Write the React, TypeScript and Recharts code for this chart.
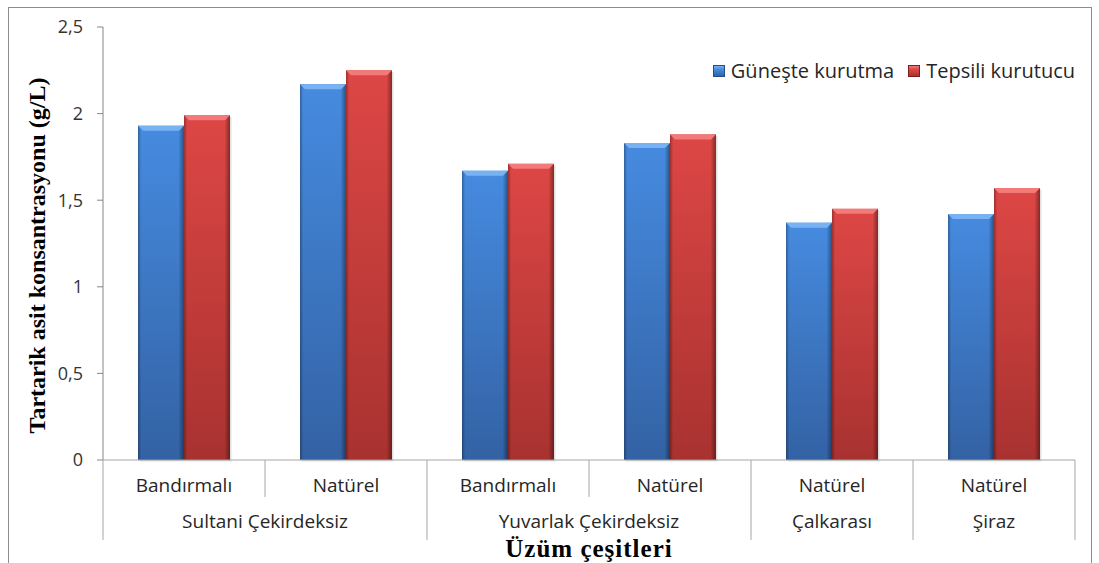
import React from 'react';
import { BarChart, Bar, XAxis, YAxis, Legend } from 'recharts';

// grape varieties (group) and processing (sub) per bar slot
const groups = ['Sultani Çekirdeksiz', 'Sultani Çekirdeksiz', 'Yuvarlak Çekirdeksiz', 'Yuvarlak Çekirdeksiz', 'Çalkarası', 'Şiraz'];
const subs = ['Bandırmalı', 'Natürel', 'Bandırmalı', 'Natürel', 'Natürel', 'Natürel'];
const gunes = [1.93, 2.17, 1.67, 1.83, 1.37, 1.42];
const tepsi = [1.99, 2.25, 1.71, 1.88, 1.45, 1.57];
const yTicks = [0, 0.5, 1, 1.5, 2, 2.5];

const rows = subs.map((s, i) => ({ sub: s, group: groups[i], gunes: gunes[i], tepsi: tepsi[i] }));

const TONES: Record<string, { top: string; bottom: string; bevel: string; edge: string }> = {
  blue: { top: '#468be0', bottom: '#3362a4', bevel: '#78b2f2', edge: '#264d85' },
  red: { top: '#dd4745', bottom: '#a83230', bevel: '#f27a78', edge: '#7a2120' },
};

const sans = '"Open Sans", Lato, sans-serif';
const serif = '"Liberation Serif", "Times New Roman", serif';

const BevelBar = (props: any) => {
  const { x, y, width, height, index, tone } = props;
  if (!height || height <= 0) return null;
  const c = TONES[tone];
  const id = `bar-${tone}-${index}`;
  const b = Math.min(5, width / 6);
  return (
    <g>
      <defs>
        <linearGradient id={id + 'v'} x1="0" y1="0" x2="0" y2="1">
          <stop offset="0%" stopColor={c.top} />
          <stop offset="100%" stopColor={c.bottom} />
        </linearGradient>
        <linearGradient id={id + 'h'} x1="0" y1="0" x2="1" y2="0">
          <stop offset="0%" stopColor="#000" stopOpacity={0.3} />
          <stop offset="7%" stopColor="#000" stopOpacity={0} />
          <stop offset="88%" stopColor="#000" stopOpacity={0} />
          <stop offset="100%" stopColor="#000" stopOpacity={0.4} />
        </linearGradient>
      </defs>
      <rect x={x + 1.5} y={y + 1.5} width={width} height={height} fill="#000" opacity={0.12} />
      <rect x={x} y={y} width={width} height={height} fill={`url(#${id}v)`} />
      <rect x={x} y={y} width={width} height={height} fill={`url(#${id}h)`} />
      <polygon
        points={`${x},${y} ${x + width},${y} ${x + width - b},${y + b} ${x + b},${y + b}`}
        fill={c.bevel}
      />
      <line x1={x} y1={y + height - 0.5} x2={x + width} y2={y + height - 0.5} stroke={c.edge} strokeOpacity={0.6} />
    </g>
  );
};

const TwoLevelTick = (props: any) => {
  const { x, y, payload } = props;
  const i = payload.index;
  const off = payload.offset || 81;
  const left = x - off;
  const first = i === 0 || groups[i - 1] !== groups[i];
  const last = i === groups.length - 1;
  let n = 0;
  if (first) {
    while (groups[i + n] === groups[i]) n++;
  }
  const line = '#a6a6a6';
  return (
    <g>
      <line x1={left} y1={y} x2={left} y2={y + (first ? 80 : 37)} stroke={line} />
      {last && <line x1={x + off} y1={y} x2={x + off} y2={y + 80} stroke={line} />}
      <text x={x} y={y + 32} textAnchor="middle" fontSize={19} fontFamily={sans} fill="#262626">
        {payload.value}
      </text>
      {first && (
        <text x={left + n * off} y={y + 68} textAnchor="middle" fontSize={19} fontFamily={sans} fill="#262626">
          {groups[i]}
        </text>
      )}
    </g>
  );
};

const YTitle = ({ viewBox }: any) => {
  const vb = viewBox && viewBox.height ? viewBox : { x: 0, y: 20, height: 433 };
  const cx = vb.x + 29;
  const cy = vb.y + vb.height / 2 + 12;
  return (
    <text
      x={cx}
      y={cy}
      transform={`rotate(-90 ${cx} ${cy})`}
      textAnchor="middle"
      dominantBaseline="central"
      fontFamily={serif}
      fontWeight="bold"
      fontSize={24}
      fill="#000"
    >
      Tartarik asit konsantrasyonu (g/L)
    </text>
  );
};

const LegendBox = ({ payload }: any) => (
  <div style={{ display: 'flex', alignItems: 'center', fontFamily: sans, fontSize: 20, color: '#262626', whiteSpace: 'nowrap' }}>
    {(payload || []).map((p: any, k: number) => {
      const c = TONES[p.dataKey === 'gunes' ? 'blue' : 'red'];
      return (
        <div key={p.dataKey} style={{ display: 'flex', alignItems: 'center', marginLeft: k ? 14 : 0 }}>
          <span
            style={{
              display: 'inline-block',
              width: 10,
              height: 10,
              marginRight: 6,
              background: `linear-gradient(${c.bevel}, ${c.top} 35%, ${c.bottom})`,
              border: `1px solid ${c.edge}`,
            }}
          />
          {p.value}
        </div>
      );
    })}
  </div>
);

const App = () => {
  return (
    <div style={{ position: 'absolute', left: 8, top: 7, width: 1084, height: 560 }}>
      <div style={{ position: 'absolute', inset: 0, border: '1px solid #8c8c8c', boxSizing: 'border-box' }} />
      <div style={{ position: 'absolute', left: 0, top: 0 }}>
        <BarChart
          width={1084}
          height={556}
          data={rows}
          margin={{ top: 20, right: 17, left: 0, bottom: 0 }}
          barCategoryGap="21.6%"
          barGap={0}
        >
          <YAxis
            width={95}
            domain={[0, 2.5]}
            ticks={yTicks}
            tickFormatter={(v: number) => String(v).replace('.', ',')}
            tick={{ fontSize: 18, fontFamily: sans, fill: '#333' }}
            axisLine={{ stroke: '#868686' }}
            tickLine={{ stroke: '#868686' }}
            tickSize={6}
            tickMargin={14}
            label={<YTitle />}
          />
          <XAxis
            dataKey="sub"
            height={103}
            interval={0}
            tickLine={false}
            tickSize={0}
            tickMargin={0}
            axisLine={{ stroke: '#a6a6a6' }}
            tick={<TwoLevelTick />}
            label={{
              value: 'Üzüm çeşitleri',
              position: 'insideBottom',
              offset: 6,
              style: { fontFamily: serif, fontWeight: 'bold', fontSize: 25, letterSpacing: 1, fill: '#000' },
            }}
          />
          <Legend
            verticalAlign="middle"
            align="center"
            layout="horizontal"
            content={<LegendBox />}
            wrapperStyle={{ top: 50, right: 17, left: 'auto', width: 'auto' }}
          />
          <Bar dataKey="gunes" name="Güneşte kurutma" fill={TONES.blue.top} isAnimationActive={false}
            shape={(p: any) => <BevelBar {...p} tone="blue" />} />
          <Bar dataKey="tepsi" name="Tepsili kurutucu" fill={TONES.red.top} isAnimationActive={false}
            shape={(p: any) => <BevelBar {...p} tone="red" />} />
        </BarChart>
      </div>
    </div>
  );
};

export default App;
